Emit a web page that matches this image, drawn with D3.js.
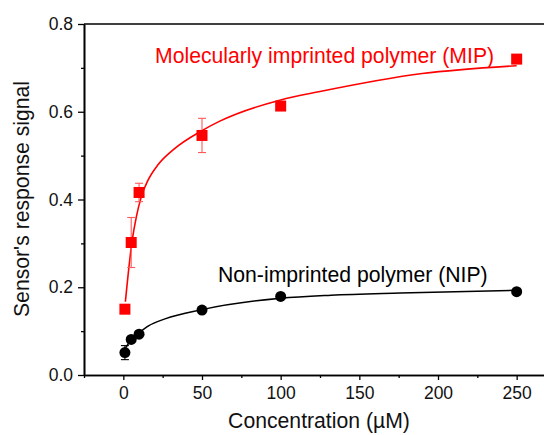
<!DOCTYPE html>
<html><head><meta charset="utf-8">
<script src="https://cdn.jsdelivr.net/npm/d3@7"></script>
<style>body{margin:0;background:#fff}svg{display:block}text{font-family:"Liberation Sans",Arial,sans-serif}</style>
</head><body><svg id="c" width="544" height="435"></svg>
<script>
// measured data
const conc = [1, 5, 10, 50, 100, 250];
const mipSignal = [0.15, 0.302, 0.416, 0.546, 0.613, 0.72];
const mipErr = [0, 0.057, 0.021, 0.039, 0, 0];
const nipSignal = [0.051, 0.081, 0.093, 0.148, 0.179, 0.19];
const nipErr = [0.016, 0, 0, 0, 0, 0];
// fitted curves
const mipFitX = [1.3, 5.5, 8.3, 11.4, 15.7, 22, 31.6, 50, 61, 100, 125, 190, 250];
const mipFitY = [0.167, 0.304, 0.361, 0.406, 0.444, 0.479, 0.513, 0.557, 0.578, 0.627, 0.646, 0.687, 0.705];
const nipFitX = [1.5, 5, 10, 16, 26.5, 50, 100, 132, 176, 250];
const nipFitY = [0.062, 0.081, 0.096, 0.112, 0.128, 0.149, 0.175, 0.182, 0.187, 0.193];
const xTicks = [0, 50, 100, 150, 200, 250];
const yTicks = [0, 0.2, 0.4, 0.6, 0.8];
const xTitle = "Concentration (\u00B5M)";
const yTitle = "Sensor's response signal";
const mipLabel = "Molecularly imprinted polymer (MIP)";
const nipLabel = "Non-imprinted polymer (NIP)";

const svg = d3.select("#c");
const x = d3.scaleLinear().domain([-25, 275]).range([84, 556]);
const y = d3.scaleLinear().domain([0, 0.8]).range([375, 24]);

// axes
const xAxis = svg.append("g").attr("transform", "translate(0,375)")
  .call(d3.axisBottom(x).tickValues(xTicks).tickSize(5).tickSizeOuter(0).tickPadding(7));
const xMinor = svg.append("g").attr("transform", "translate(0,375)")
  .call(d3.axisBottom(x).tickValues(d3.range(-25, 275, 50)).tickSize(3).tickFormat("").tickSizeOuter(0));
const yAxis = svg.append("g").attr("transform", "translate(84,0)")
  .call(d3.axisLeft(y).tickValues(yTicks).tickFormat(d3.format(".1f")).tickSize(6).tickSizeOuter(0).tickPadding(5));
const yMinor = svg.append("g").attr("transform", "translate(84,0)")
  .call(d3.axisLeft(y).tickValues([0.1, 0.3, 0.5, 0.7]).tickSize(3).tickFormat("").tickSizeOuter(0));
[xAxis, xMinor, yAxis, yMinor].forEach(g => {
  g.selectAll("path.domain").attr("stroke", "#000").attr("stroke-width", 1.6);
  g.selectAll("line").attr("stroke", "#000").attr("stroke-width", 1.3);
  g.selectAll("text").attr("font-size", 17.5).attr("fill", "#111").attr("font-family", '"Liberation Sans",Arial,sans-serif');
});
// top frame
svg.append("line").attr("x1", 84).attr("x2", 556).attr("y1", y(0.8)).attr("y2", y(0.8))
  .attr("stroke", "#000").attr("stroke-width", 1.6);

// fitted curves
const line = d3.line().x(d => x(d[0])).y(d => y(d[1])).curve(d3.curveMonotoneX);
svg.append("path").datum(d3.zip(nipFitX, nipFitY)).attr("d", line)
  .attr("fill", "none").attr("stroke", "#000").attr("stroke-width", 1.5);
svg.append("path").datum(d3.zip(mipFitX, mipFitY)).attr("d", line)
  .attr("fill", "none").attr("stroke", "#ff0000").attr("stroke-width", 1.6);

// error bars
function errBars(vals, errs, color) {
  const g = svg.append("g").attr("stroke", color).attr("stroke-width", 1.1);
  conc.forEach((c, i) => {
    if (!errs[i]) return;
    const cx = x(c), y1 = y(vals[i] + errs[i]), y2 = y(vals[i] - errs[i]);
    g.append("line").attr("x1", cx).attr("x2", cx).attr("y1", y1).attr("y2", y2);
    g.append("line").attr("x1", cx - 4).attr("x2", cx + 4).attr("y1", y1).attr("y2", y1);
    g.append("line").attr("x1", cx - 4).attr("x2", cx + 4).attr("y1", y2).attr("y2", y2);
  });
}
errBars(nipSignal, nipErr, "#000");
errBars(mipSignal, mipErr, "#ff5a5a");

// markers
svg.append("g").selectAll("circle").data(d3.zip(conc, nipSignal)).join("circle")
  .attr("cx", d => x(d[0])).attr("cy", d => y(d[1])).attr("r", 5.5).attr("fill", "#000");
svg.append("g").selectAll("rect").data(d3.zip(conc, mipSignal)).join("rect")
  .attr("x", d => x(d[0]) - 5.5).attr("y", d => y(d[1]) - 5.5).attr("width", 11).attr("height", 11).attr("fill", "#ff0000");

// labels
svg.append("text").attr("x", 155).attr("y", 63).attr("font-size", 21.2).attr("fill", "#ff0000").text(mipLabel);
svg.append("text").attr("x", 218).attr("y", 282).attr("font-size", 21.2).attr("fill", "#000").text(nipLabel);
svg.append("text").attr("x", 319).attr("y", 428).attr("text-anchor", "middle").attr("font-size", 21.2).attr("fill", "#111").text(xTitle);
svg.append("text").attr("transform", "translate(29,199) rotate(-90)").attr("text-anchor", "middle").attr("font-size", 21.2).attr("fill", "#111").text(yTitle);
</script></body></html>
